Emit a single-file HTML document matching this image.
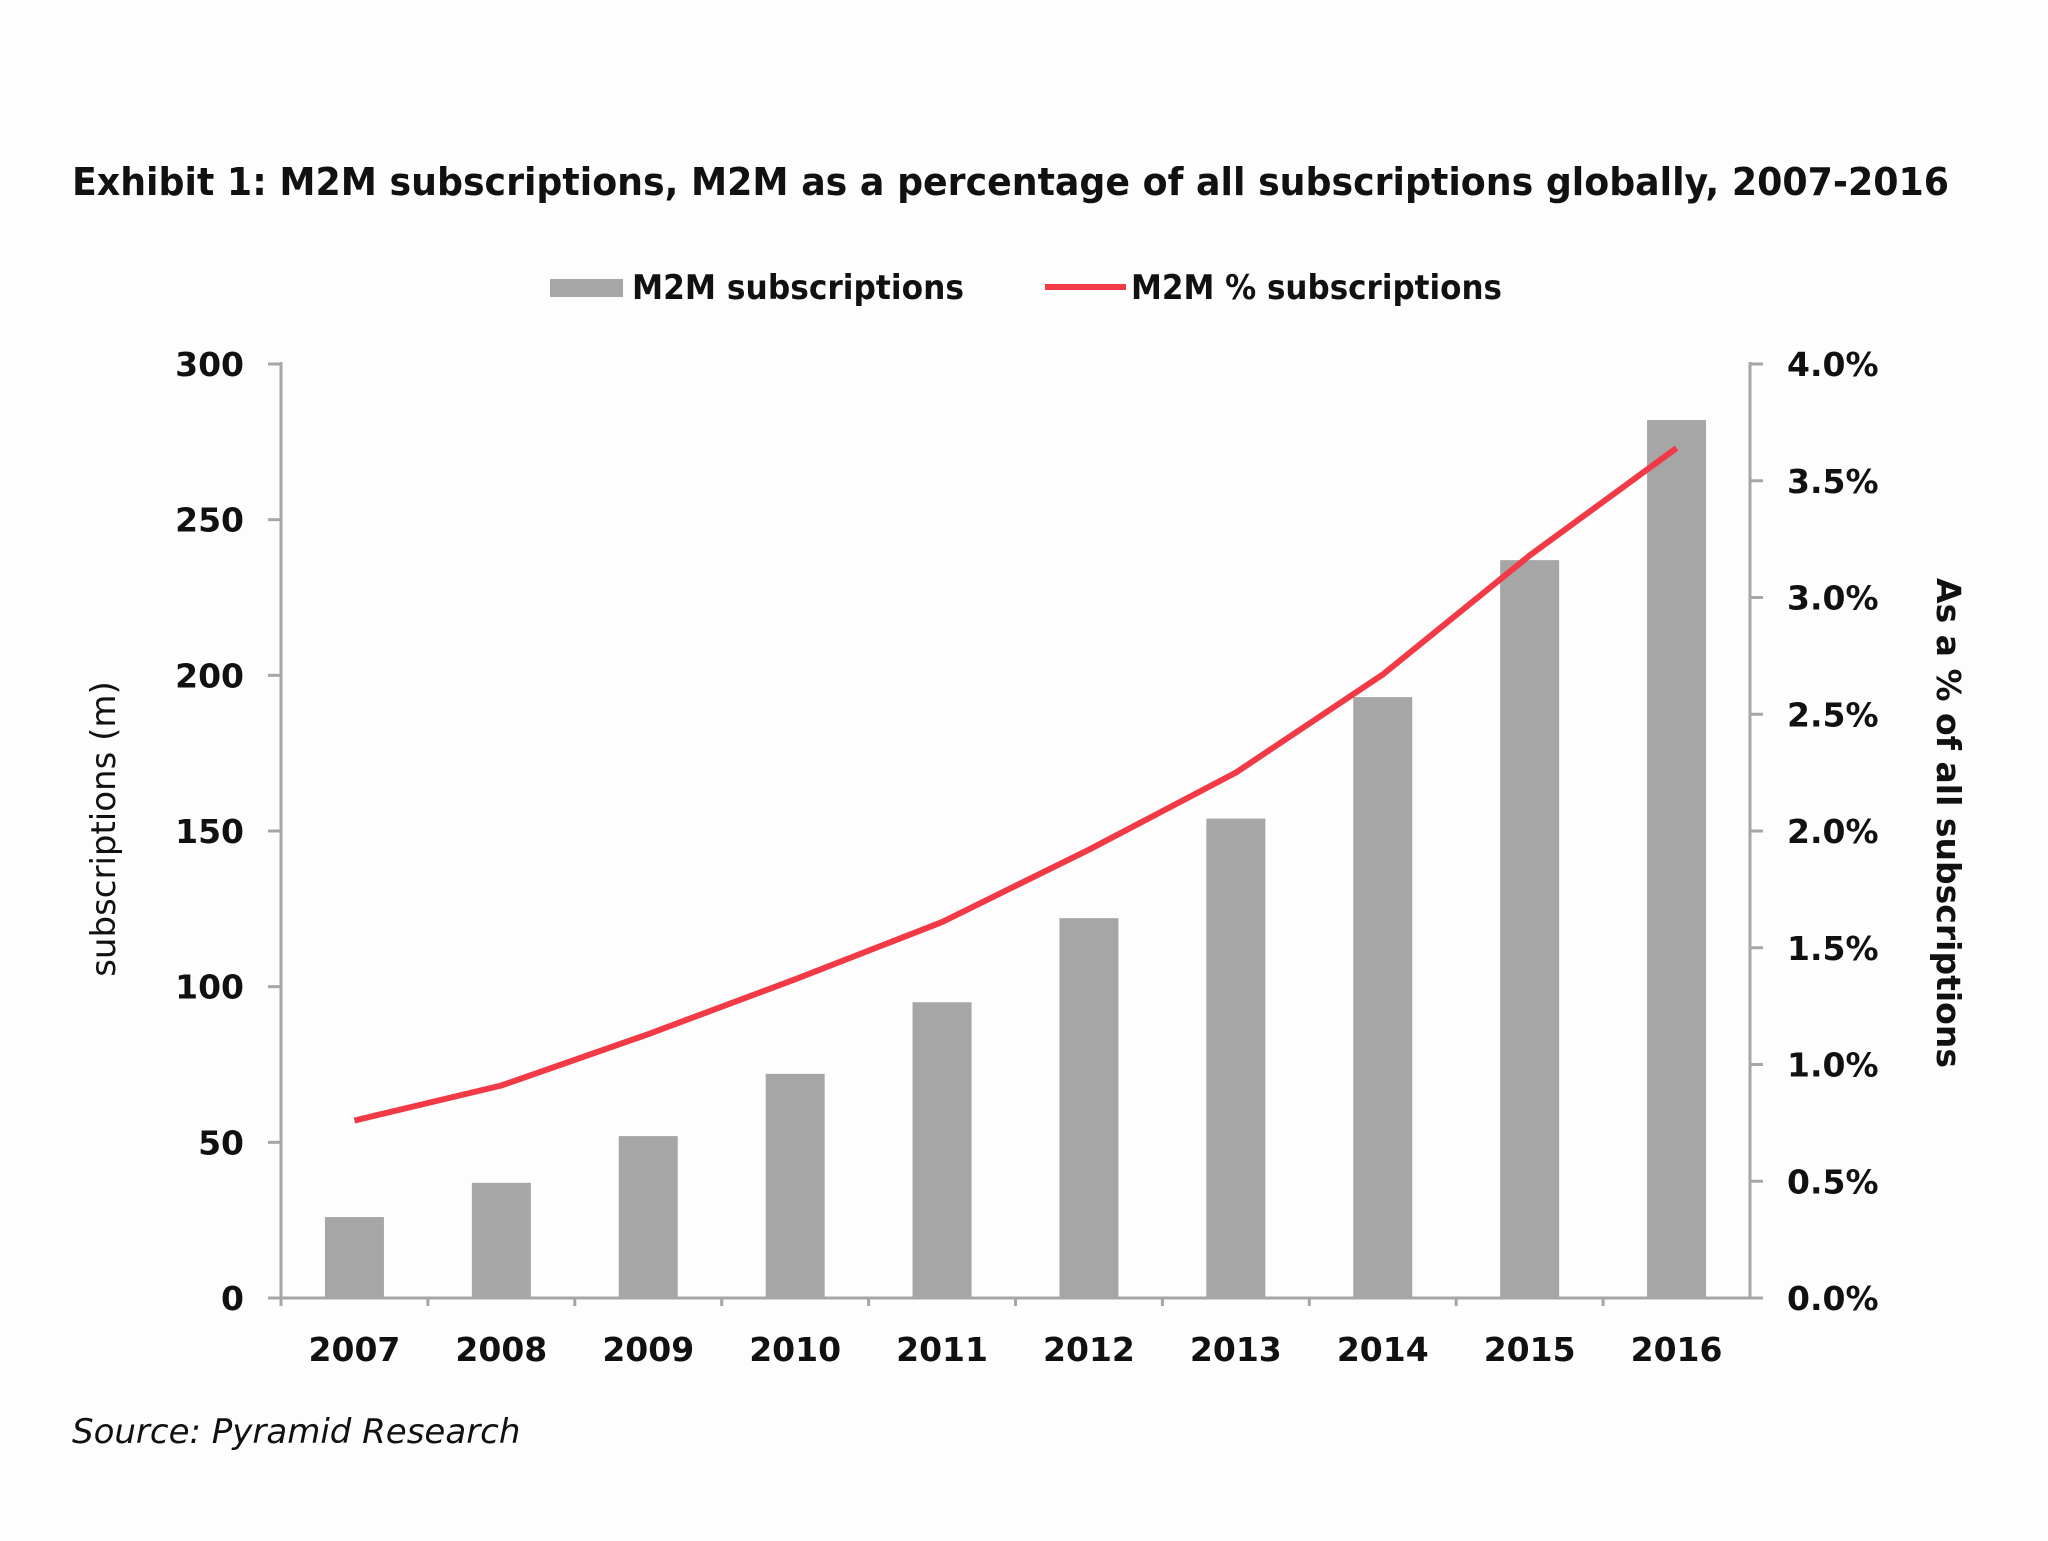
<!DOCTYPE html>
<html><head><meta charset="utf-8"><style>
html,body{margin:0;padding:0;background:#fdfdfe;}
svg text{font-family:"DejaVu Sans","Liberation Sans",sans-serif;fill:#111;}
</style></head><body>
<svg width="2048" height="1536" viewBox="0 0 2048 1536">
<rect width="2048" height="1536" fill="#fdfdfe"/>
<text x="72" y="195" font-size="38" font-weight="bold" textLength="1877" lengthAdjust="spacingAndGlyphs">Exhibit 1: M2M subscriptions, M2M as a percentage of all subscriptions globally, 2007-2016</text>
<g>
<rect x="550" y="279" width="73" height="18" fill="#a6a6a6"/>
<text x="632" y="299" font-size="34" font-weight="bold" textLength="332" lengthAdjust="spacingAndGlyphs">M2M subscriptions</text>
<line x1="1045" y1="287" x2="1126" y2="287" stroke="#f23a46" stroke-width="6"/>
<text x="1131" y="299" font-size="34" font-weight="bold" textLength="371" lengthAdjust="spacingAndGlyphs">M2M % subscriptions</text>
</g>
<g id="plot"></g>
<text transform="translate(115,829) rotate(-90)" text-anchor="middle" font-size="34">subscriptions (m)</text>
<text transform="translate(1937,823) rotate(90)" text-anchor="middle" font-size="33" font-weight="600">As a % of all subscriptions</text>
<text x="72" y="1443" font-size="34" font-style="italic">Source: Pyramid Research</text>
</svg>
<script>
const categories=["2007","2008","2009","2010","2011","2012","2013","2014","2015","2016"];
const subscriptions=[26,37,52,72,95,122,154,193,237,282];
const percentShare=[0.76,0.91,1.13,1.365,1.61,1.92,2.25,2.67,3.18,3.64];
const leftTicks=[0,50,100,150,200,250,300];
const rightTicks=[0,0.5,1,1.5,2,2.5,3,3.5,4];
const NS="http://www.w3.org/2000/svg";
const plot=document.getElementById('plot');
const X0=281,X1=1750,Y0=1298,Y1=364;
const band=(X1-X0)/categories.length;
const xc=i=>X0+band*(i+0.5);
const yL=v=>Y0-(v/300)*(Y0-Y1);
const yR=v=>Y0-(v/4)*(Y0-Y1);
function mk(tag,attrs){const e=document.createElementNS(NS,tag);for(const k in attrs)e.setAttribute(k,attrs[k]);plot.appendChild(e);return e;}
subscriptions.forEach((v,i)=>{
 const r=mk('rect',{x:xc(i)-29.5,y:yL(v),width:59,height:Y0-yL(v),fill:'#a6a6a6'});
 
 
});
let a=mk('line',{x1:X0,y1:Y1-2,x2:X0,y2:Y0+6,stroke:'#a6a6a6','stroke-width':3});


a=mk('line',{x1:X1,y1:Y1-2,x2:X1,y2:Y0,stroke:'#a6a6a6','stroke-width':3});


a=mk('line',{x1:X0-13,y1:Y0,x2:X1,y2:Y0,stroke:'#a6a6a6','stroke-width':3});


leftTicks.forEach(v=>{
 const y=yL(v);
 const t=mk('line',{x1:X0-13,y1:y,x2:X0,y2:y,stroke:'#a6a6a6','stroke-width':3});
 
 
 const l=mk('text',{x:244,y:y+12,'text-anchor':'end','font-size':33,'font-weight':'bold'});
 l.textContent=v;
 
 
});
rightTicks.forEach(v=>{
 const y=yR(v);
 const t=mk('line',{x1:X1,y1:y,x2:X1+13,y2:y,stroke:'#a6a6a6','stroke-width':3});
 
 
 const l=mk('text',{x:1787,y:y+12,'font-size':33,'font-weight':'bold'});
 l.textContent=v.toFixed(1)+'%';
 
 
});
categories.forEach((c,i)=>{
 const t=mk('line',{x1:X0+band*i,y1:Y0,x2:X0+band*i,y2:Y0+8,stroke:'#a6a6a6','stroke-width':3});
 
 
 const l=mk('text',{x:xc(i),y:1361,'text-anchor':'middle','font-size':33,'font-weight':'bold'});
 l.textContent=c;
 
 
});
const p=mk('polyline',{points:percentShare.map((v,i)=>xc(i)+','+yR(v)).join(' '),fill:'none',stroke:'#f23a46','stroke-width':6,'stroke-linejoin':'round'});


</script>
</body></html>
